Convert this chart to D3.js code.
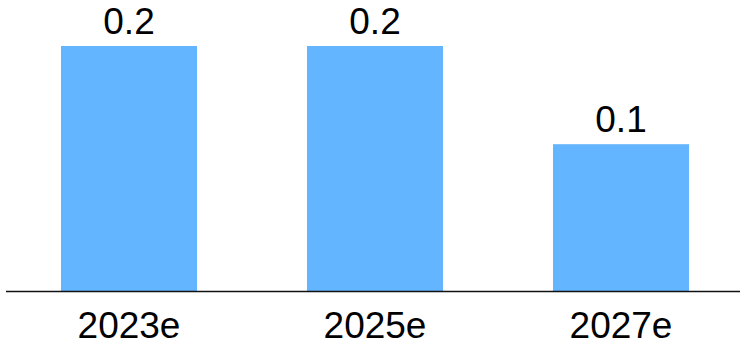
<!DOCTYPE html>
<html>
<head>
<meta charset="utf-8">
<script src="https://cdn.jsdelivr.net/npm/d3@7"></script>
<style>
  html, body { margin: 0; padding: 0; background: #fff; }
  svg { display: block; }
  text { font-family: "Liberation Sans", Arial, sans-serif; fill: #000; }
</style>
</head>
<body>
<svg id="chart" width="743" height="341"></svg>
<script>
// Forecast values by year
const categories = ["2023e", "2025e", "2027e"];
const values = [0.2, 0.2, 0.12];

const width = 743, height = 341;
const baseline = 291.5;

const svg = d3.select("#chart");

const x = d3.scaleBand()
  .domain(categories)
  .range([6, 744])
  .paddingInner(0.447)
  .paddingOuter(0.2235);

const y = d3.scaleLinear()
  .domain([0, 0.2])
  .range([baseline, 46]);

const data = categories.map((c, i) => ({ c, v: values[i] }));

// Bars
svg.append("g")
  .selectAll("rect")
  .data(data)
  .join("rect")
  .attr("x", d => x(d.c))
  .attr("y", d => y(d.v))
  .attr("width", x.bandwidth())
  .attr("height", d => y(0) - y(d.v))
  .attr("fill", "#64b5ff");

// Value labels above bars
svg.append("g")
  .selectAll("text")
  .data(data)
  .join("text")
  .attr("x", d => x(d.c) + x.bandwidth() / 2)
  .attr("y", d => y(d.v) - 12)
  .attr("text-anchor", "middle")
  .style("font-size", "37px")
  .text(d => d3.format(".1f")(d.v));

// Category axis
const axis = svg.append("g")
  .attr("transform", `translate(0,${baseline})`)
  .call(d3.axisBottom(x).tickSize(0).tickPadding(0));
axis.select(".domain").remove();
axis.selectAll("text")
  .attr("dy", null)
  .attr("y", 46.5)
  .style("font-size", "37px")
  .style("font-family", '"Liberation Sans", Arial, sans-serif')
  .attr("fill", "#000");

svg.append("line")
  .attr("x1", 6)
  .attr("x2", 740)
  .attr("y1", baseline)
  .attr("y2", baseline)
  .attr("stroke", "#111")
  .attr("stroke-width", 1.5);
</script>
</body>
</html>
